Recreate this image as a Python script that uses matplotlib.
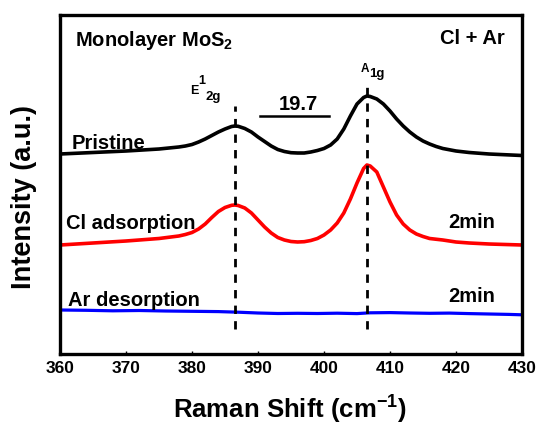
import matplotlib
matplotlib.use("Agg")
import matplotlib.pyplot as plt

plt.rcParams['font.family'] = ['Liberation Sans', 'DejaVu Sans']
plt.rcParams['mathtext.fontset'] = 'custom'
plt.rcParams['mathtext.rm'] = 'Liberation Sans:bold'
plt.rcParams['mathtext.bf'] = 'Liberation Sans:bold'
plt.rcParams['mathtext.it'] = 'Liberation Sans:bold'

# Raman shift (cm^-1) and vertically offset intensities (a.u.)
pristine_x = [360, 365, 370, 375, 378, 379, 380, 381, 382, 383, 384, 385, 386, 386.5, 387, 388, 389, 390,
              391, 392, 393, 394, 395, 396, 397, 398, 399, 400, 401, 402, 403, 404, 405, 406, 406.5, 407,
              408, 409, 410, 411, 412, 413, 414, 415, 416, 417, 418, 420, 422, 425, 430]
pristine_y = [200, 201.5, 203, 205, 207, 208, 209.5, 212, 215, 218.5, 222, 225, 227.5, 228, 227.7, 225.5,
              222, 217, 212.5, 208, 204.5, 202.5, 201.3, 201, 201, 202, 203.5, 205.5, 209, 215, 225, 238,
              250, 256.5, 258, 257.5, 255, 250, 243, 235, 228, 222, 217, 213, 210, 207.5, 205.5, 203,
              201.5, 200, 198.5]

cl_x = [360, 365, 370, 375, 378, 379, 380, 381, 382, 383, 384, 385, 386, 386.5, 387, 388, 389, 390, 391,
        392, 393, 394, 395, 396, 397, 398, 399, 400, 401, 402, 403, 404, 405, 406, 406.5, 407, 408, 409,
        410, 411, 412, 413, 414, 415, 416, 418, 420, 422, 425, 430]
cl_y = [109, 111, 113, 115.5, 118, 119.5, 121.5, 125, 130, 136.5, 142.5, 146.5, 148.7, 149, 148.5, 146,
        141, 134, 127, 121, 116.5, 114, 112.5, 112, 112.3, 113.5, 115.5, 119, 124, 131, 141, 155, 171,
        185.5, 189, 188, 182, 167, 152, 139, 130, 124, 120, 117.5, 115.5, 114, 112, 111, 110, 109]

ar_x = [360, 364, 368, 372, 376, 380, 384, 387, 390, 393, 396, 399, 402, 405, 407, 410, 413, 416, 419,
        422, 425, 428, 430]
ar_y = [44, 43.7, 43.2, 43.5, 43, 42.7, 42.4, 41.8, 41, 40.5, 40.7, 40.5, 40.8, 40.4, 41.2, 41.4, 41,
        40.7, 40.9, 40.4, 40, 39.6, 39.2]

peak_positions = [386.5, 406.5]
xticks = [360, 370, 380, 390, 400, 410, 420, 430]

W, H = 539, 425
fig = plt.figure(figsize=(W / 100, H / 100), dpi=100)
ax = fig.add_axes([60 / W, 1 - 354 / H, 462 / W, 339 / H])

ax.plot(pristine_x, pristine_y, color='black', lw=2.6, solid_capstyle='butt')
ax.plot(cl_x, cl_y, color='#ff0000', lw=2.6, solid_capstyle='butt')
ax.plot(ar_x, ar_y, color='#0000ff', lw=2.3, solid_capstyle='butt')

# dashed peak guides
ax.plot([peak_positions[0]] * 2, [25, 248], color='black', lw=2, dashes=(3, 2.6))
ax.plot([peak_positions[1]] * 2, [25, 270], color='black', lw=2, dashes=(3, 2.6))

# 19.7 separation marker
ax.plot([390.3, 400.8], [238, 238], color='black', lw=1.8)
ax.text(396.1, 243.5, '19.7', ha='center', va='baseline', fontsize=14.5, fontweight='bold')

ax.set_xlim(360, 430)
ax.set_ylim(0, 339)
ax.set_xticks(xticks)
ax.set_xticklabels([str(t) for t in xticks], fontsize=12.5, fontweight='bold')
ax.set_yticks([])
ax.tick_params(axis='x', direction='in', length=2, width=1, pad=5)
for s in ax.spines.values():
    s.set_linewidth(2.4)

fs = 14.5
ax.text(362.3, 308, r'Monolayer MoS$_{\mathbf{2}}$', fontsize=fs, fontweight='bold', va='baseline', ha='left')
ax.text(427.4, 310, 'Cl + Ar', fontsize=fs, fontweight='bold', va='baseline', ha='right')
ax.text(379.7, 260, 'E', fontsize=9, fontweight='bold', va='baseline', ha='left')
ax.text(381.0, 270, '1', fontsize=9, fontweight='bold', va='baseline', ha='left')
ax.text(382.0, 254, '2g', fontsize=9.5, fontweight='bold', va='baseline', ha='left')
ax.text(405.5, 282, 'A', fontsize=8.5, fontweight='bold', va='baseline', ha='left')
ax.text(406.8, 277, '1g', fontsize=9.5, fontweight='bold', va='baseline', ha='left')
ax.text(361.8, 205, 'Pristine', fontsize=fs, fontweight='bold', va='baseline', ha='left')
ax.text(360.9, 125, 'Cl adsorption', fontsize=fs, fontweight='bold', va='baseline', ha='left')
ax.text(361.2, 48, 'Ar desorption', fontsize=fs, fontweight='bold', va='baseline', ha='left')
ax.text(425.9, 126, '2min', fontsize=fs, fontweight='bold', va='baseline', ha='right')
ax.text(425.9, 52, '2min', fontsize=fs, fontweight='bold', va='baseline', ha='right')

fig.text(290 / W, 1 - 410 / H, r'Raman Shift (cm$^{\mathbf{-1}}$)', fontsize=18.5, fontweight='bold',
         ha='center', va='center')
fig.text(24 / W, 1 - 197 / H, 'Intensity (a.u.)', fontsize=19.5, fontweight='bold',
         ha='center', va='center', rotation=90)

fig.savefig('out.png', dpi=100)
